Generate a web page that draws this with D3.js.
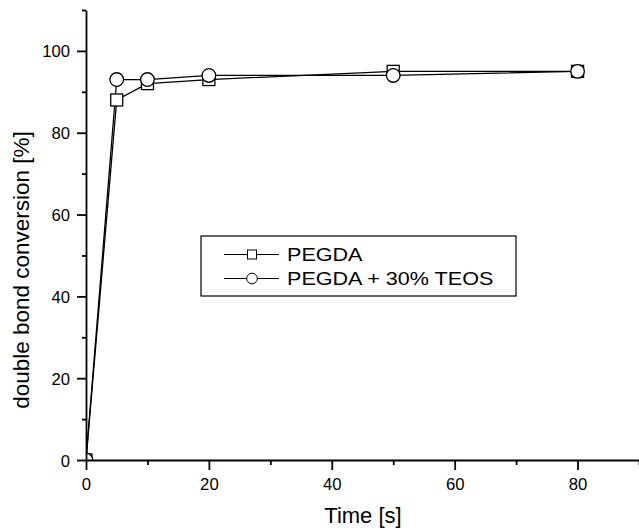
<!DOCTYPE html>
<html>
<head>
<meta charset="utf-8">
<script src="https://cdn.jsdelivr.net/npm/d3@7"></script>
<style>
  html, body { margin: 0; padding: 0; background: #fff; }
  svg { display: block; font-family: "Liberation Sans", Arial, sans-serif; }
</style>
</head>
<body>
<svg id="chart" width="639" height="531"></svg>
<script>
// Curing time (s) and double bond conversion (%) for two formulations
const timeS = [0, 5, 10, 20, 50, 80];
const pegda = [0, 88, 92, 93, 95, 95];
const pegdaTeos = [0, 93, 93, 94, 94, 95];
const seriesNames = ["PEGDA", "PEGDA + 30% TEOS"];
const xTicks = [0, 20, 40, 60, 80];
const xMinorTicks = [10, 30, 50, 70, 90];
const yTicks = [0, 20, 40, 60, 80, 100];
const yMinorTicks = [10, 30, 50, 70, 90, 110];

const svg = d3.select("#chart");
const plotLeft = 86, plotRight = 639, plotTop = 10, plotBottom = 460;

const x = d3.scaleLinear().domain([0, 90]).range([plotLeft, plotRight]);
const y = d3.scaleLinear().domain([0, 110]).range([plotBottom, plotTop]);

// clip region for the plot area
svg.append("defs").append("clipPath").attr("id", "plot")
  .append("rect").attr("x", plotLeft).attr("y", plotTop)
  .attr("width", plotRight - plotLeft).attr("height", plotBottom - plotTop);

const plot = svg.append("g").attr("clip-path", "url(#plot)");

const series = [
  { name: seriesNames[0], values: pegda, shape: "square" },
  { name: seriesNames[1], values: pegdaTeos, shape: "circle" }
];

const line = d3.line().x(d => x(d[0])).y(d => y(d[1]));

series.forEach(s => {
  const pts = timeS.map((t, i) => [t, s.values[i]]);
  plot.append("path").datum(pts).attr("d", line)
    .attr("fill", "none").attr("stroke", "#000").attr("stroke-width", 1.3);
});

function drawMarker(g, shape, cx, cy, size, sw) {
  if (shape === "square") {
    g.append("rect").attr("x", cx - size / 2).attr("y", cy - size / 2)
      .attr("width", size).attr("height", size)
      .attr("fill", "#fff").attr("stroke", "#000").attr("stroke-width", sw);
  } else {
    g.append("circle").attr("cx", cx).attr("cy", cy).attr("r", size / 2 + 0.8)
      .attr("fill", "#fff").attr("stroke", "#000").attr("stroke-width", sw);
  }
}

series.forEach(s => {
  timeS.forEach((t, i) => drawMarker(plot, s.shape, x(t), y(s.values[i]), 12, 1.3));
});

// axes: labelled major ticks plus short unlabelled minor ticks
const xAxis = svg.append("g").attr("transform", `translate(0,${plotBottom})`)
  .call(d3.axisBottom(x).tickValues(xTicks).tickSize(10).tickSizeOuter(0).tickFormat(d3.format("d")));
svg.append("g").attr("transform", `translate(0,${plotBottom})`)
  .call(d3.axisBottom(x).tickValues(xMinorTicks).tickSize(5).tickSizeOuter(0).tickFormat(""))
  .select(".domain").remove();
const yAxis = svg.append("g").attr("transform", `translate(${plotLeft},0)`)
  .call(d3.axisLeft(y).tickValues(yTicks).tickSize(9).tickSizeOuter(0).tickFormat(d3.format("d")));
svg.append("g").attr("transform", `translate(${plotLeft},0)`)
  .call(d3.axisLeft(y).tickValues(yMinorTicks).tickSize(4).tickSizeOuter(0).tickFormat(""))
  .select(".domain").remove();

svg.selectAll(".domain, .tick line").attr("stroke", "#000").attr("stroke-width", 1.8);
xAxis.selectAll(".tick text").attr("font-size", 16.7).attr("fill", "#000")
  .attr("y", 30).attr("dy", 0);
yAxis.selectAll(".tick text").attr("font-size", 16.7).attr("fill", "#000")
  .attr("x", -16).attr("dy", "0.36em");

// axis titles
svg.append("text").attr("x", 363).attr("y", 523).attr("text-anchor", "middle")
  .attr("font-size", 22).text("Time [s]");
svg.append("text").attr("transform", "translate(29,270) rotate(-90)")
  .attr("text-anchor", "middle").attr("font-size", 22.5).text("double bond conversion [%]");

// legend
const lg = svg.append("g");
lg.append("rect").attr("x", 201).attr("y", 236).attr("width", 315).attr("height", 60)
  .attr("fill", "#fff").attr("stroke", "#000").attr("stroke-width", 1.2);
series.forEach((s, i) => {
  const ly = 254.5 + i * 24;
  lg.append("line").attr("x1", 224).attr("x2", 279).attr("y1", ly).attr("y2", ly)
    .attr("stroke", "#000").attr("stroke-width", 1);
  drawMarker(lg, s.shape, 252, ly, 9, 1);
  lg.append("text").attr("transform", `translate(287,${ly + 6.5}) scale(1.16,1)`)
    .attr("font-size", 18.6).text(s.name);
});
</script>
</body>
</html>
